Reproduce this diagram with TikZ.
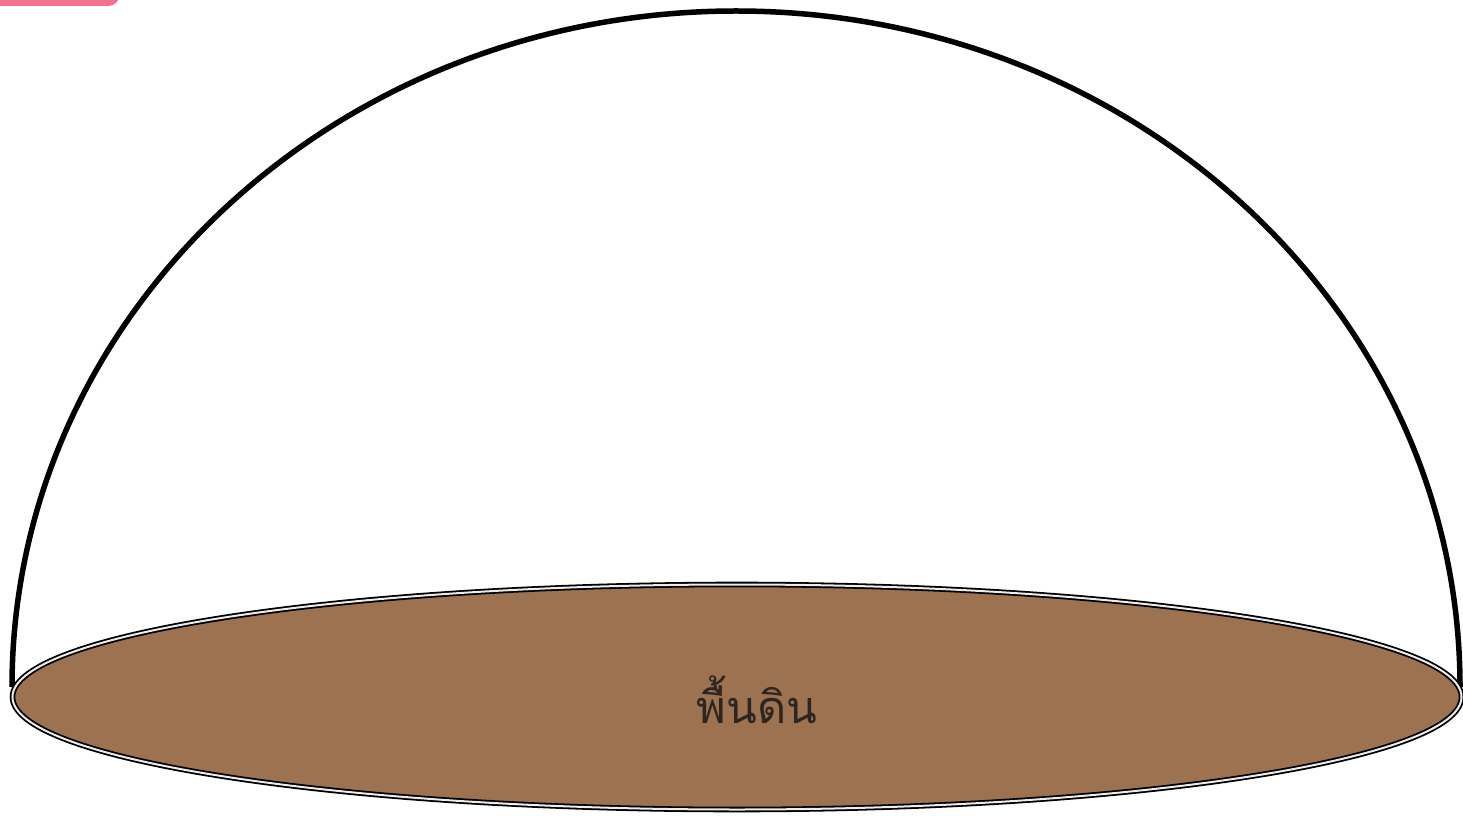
\documentclass[tikz,border=0pt]{standalone}
\usepackage{fontspec}
\usetikzlibrary{shapes.geometric}
\newfontfamily\thaifont[Script=Thai]{Loma}
\definecolor{soil}{RGB}{156,114,80}
\definecolor{pinktab}{RGB}{244,112,142}
\definecolor{textdark}{RGB}{45,38,32}
\tikzset{
  dome/.style={draw=black, line width=5.5pt},
  ground/.style={draw=black, line width=1.8pt, double=white!85!gray, double distance=2pt, fill=soil},
  label/.style={font=\thaifont\fontsize{45}{50}\selectfont, text=textdark, inner sep=0pt}
}
\begin{document}
\begin{tikzpicture}[x=1pt,y=1pt]
\useasboundingbox (0,0) rectangle (1463,815);
\begin{scope}
\clip (0,0) rectangle (1463,815);
\fill[pinktab, rounded corners=12pt] (-30,809) rectangle (120,840);
\end{scope}
\draw[dome] (12,128) arc[start angle=180, end angle=0, x radius=724, y radius=676];
\node[ground, ellipse, minimum width=1449, minimum height=225, inner sep=0pt] (g) at (737,118) {};
\node[label] (t) at (757,115) {พื้นดิน};
\end{tikzpicture}
\end{document}
